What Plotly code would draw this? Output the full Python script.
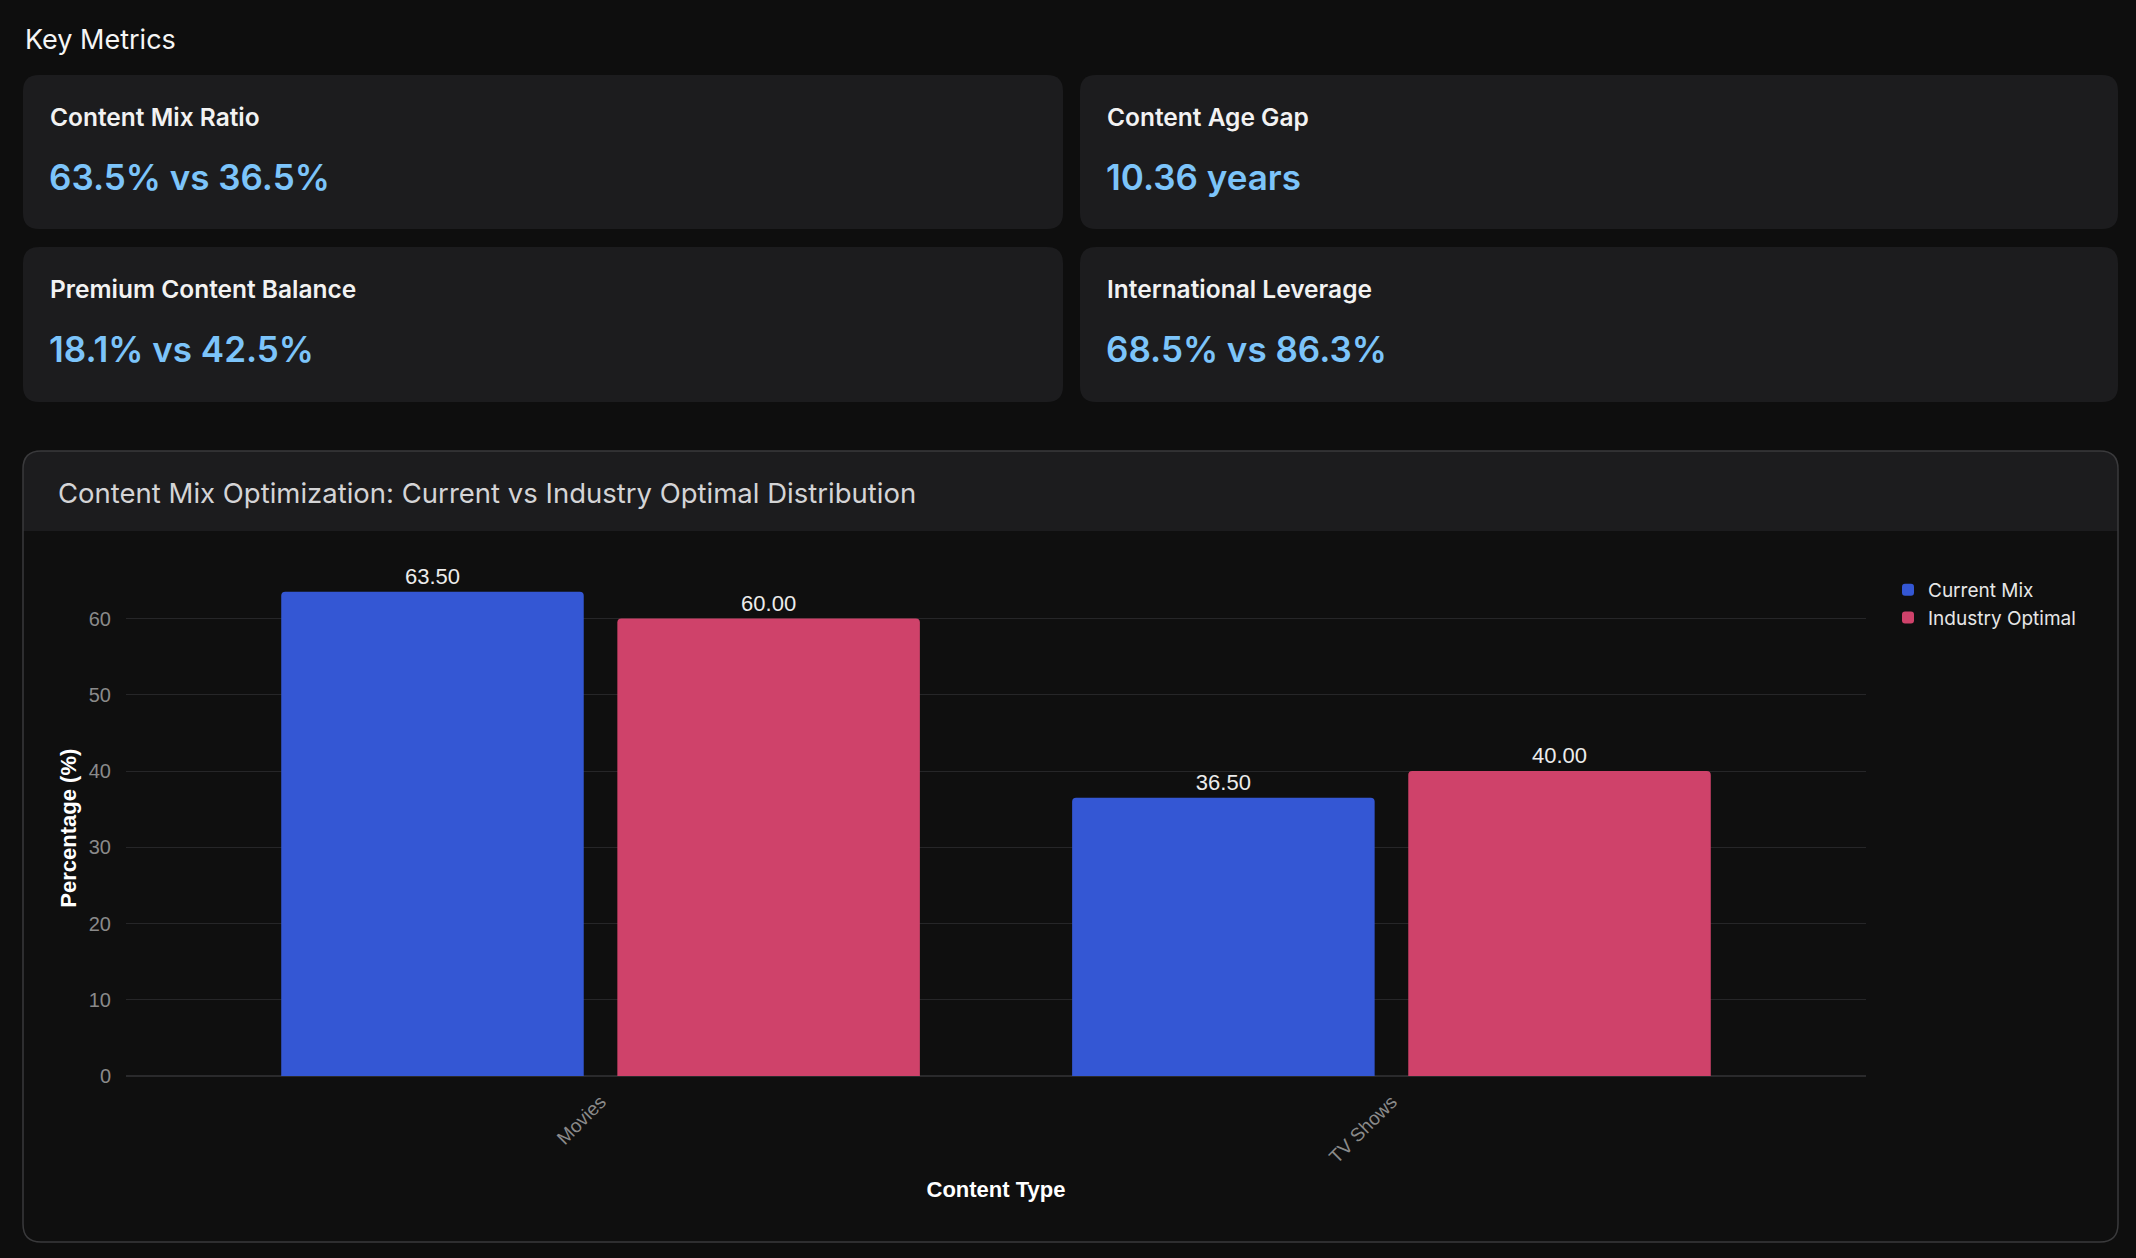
import plotly.graph_objects as go

# ---------------- data ----------------
categories = ["Movies", "TV Shows"]
current_mix = [63.5, 36.5]
industry_optimal = [60.0, 40.0]
series_names = ["Current Mix", "Industry Optimal"]

metric_labels = ["Content Mix Ratio", "Content Age Gap",
                 "Premium Content Balance", "International Leverage"]
metric_values = ["63.5% vs 36.5%", "10.36 years",
                 "18.1% vs 42.5%", "68.5% vs 86.3%"]

y_ticks = [0, 10, 20, 30, 40, 50, 60]

# ---------------- layout helpers (pixel -> paper) ----------------
W, H = 2136, 1258


def px(x):
    return x / W


def py(y):
    return 1 - y / H


def rrect(x0, y0, x1, y1, r, top_only=False):
    pts = []
    if top_only:
        pts.append(f"M{px(x0)},{py(y1)}")
        pts.append(f"L{px(x0)},{py(y0 + r)}")
        pts.append(f"Q{px(x0)},{py(y0)} {px(x0 + r)},{py(y0)}")
        pts.append(f"L{px(x1 - r)},{py(y0)}")
        pts.append(f"Q{px(x1)},{py(y0)} {px(x1)},{py(y0 + r)}")
        pts.append(f"L{px(x1)},{py(y1)} Z")
    else:
        pts.append(f"M{px(x0 + r)},{py(y0)}")
        pts.append(f"L{px(x1 - r)},{py(y0)}")
        pts.append(f"Q{px(x1)},{py(y0)} {px(x1)},{py(y0 + r)}")
        pts.append(f"L{px(x1)},{py(y1 - r)}")
        pts.append(f"Q{px(x1)},{py(y1)} {px(x1 - r)},{py(y1)}")
        pts.append(f"L{px(x0 + r)},{py(y1)}")
        pts.append(f"Q{px(x0)},{py(y1)} {px(x0)},{py(y1 - r)}")
        pts.append(f"L{px(x0)},{py(y0 + r)}")
        pts.append(f"Q{px(x0)},{py(y0)} {px(x0 + r)},{py(y0)} Z")
    return " ".join(pts)


PAGE_BG = "#0e0e0e"
CARD_BG = "#1c1c1e"
BORDER = "#3a3a3c"
BLUE = "#3457d4"
RED = "#cf426a"
VALUE_COLOR = "#7cc4fa"

label_font = "Liberation Sans, Arial"

fig = go.Figure()
for name, vals, col in [(series_names[0], current_mix, BLUE),
                        (series_names[1], industry_optimal, RED)]:
    fig.add_trace(go.Bar(
        name=name, x=categories, y=vals,
        marker=dict(color=col, line=dict(width=0)),
        text=vals, texttemplate="%{y:.2f}", textposition="outside",
        textfont=dict(color="#ececec", size=22, family=label_font),
        cliponaxis=False,
    ))

shapes = []
annotations = []

# Key metrics heading
annotations.append(dict(x=px(23), y=py(39), xref="paper", yref="paper",
                        text="Key Metrics", showarrow=False, xanchor="left",
                        yanchor="middle",
                        font=dict(family="Inter", size=27, color="#f5f5f5")))

# metric cards
card_cols = [(23, 1063), (1080, 2118)]
card_rows = [(75, 229), (247, 402)]
for i, (lab, val) in enumerate(zip(metric_labels, metric_values)):
    r, c = divmod(i, 2)
    x0, x1 = card_cols[c]
    y0, y1 = card_rows[r]
    shapes.append(dict(type="path", xref="paper", yref="paper",
                       path=rrect(x0, y0, x1, y1, 16),
                       fillcolor=CARD_BG, line=dict(width=0), layer="below"))
    annotations.append(dict(x=px(x0 + 25), y=py(y0 + 42), xref="paper", yref="paper",
                            text=lab, showarrow=False, xanchor="left",
                            yanchor="middle",
                            font=dict(family="Inter", size=24.5, weight=600,
                                      color="#f2f2f2")))
    annotations.append(dict(x=px(x0 + 24), y=py(y0 + 102), xref="paper", yref="paper",
                            text=val, showarrow=False, xanchor="left",
                            yanchor="middle",
                            font=dict(family="Inter", size=35, weight=600,
                                      color=VALUE_COLOR)))

# chart card
shapes.append(dict(type="path", xref="paper", yref="paper",
                   path=rrect(23, 451, 2118, 1242, 18),
                   fillcolor="#0f0f0f", line=dict(width=0), layer="below"))
shapes.append(dict(type="path", xref="paper", yref="paper",
                   path=rrect(23, 451, 2118, 531, 18, top_only=True),
                   fillcolor=CARD_BG, line=dict(width=0), layer="below"))
shapes.append(dict(type="path", xref="paper", yref="paper",
                   path=rrect(23, 451, 2118, 1242, 18),
                   fillcolor="rgba(0,0,0,0)", line=dict(width=1.5, color=BORDER),
                   layer="above"))
annotations.append(dict(x=px(56), y=py(493), xref="paper", yref="paper",
                        text="Content Mix Optimization: Current vs Industry Optimal Distribution",
                        showarrow=False, xanchor="left", yanchor="middle",
                        font=dict(family="Inter", size=27.5, color="#d4d4d6")))

fig.update_layout(
    width=W, height=H,
    margin=dict(l=0, r=0, t=0, b=0),
    paper_bgcolor=PAGE_BG, plot_bgcolor="rgba(0,0,0,0)",
    barmode="group", bargap=0.15, bargroupgap=0.1, barcornerradius=4,
    shapes=shapes, annotations=annotations,
    xaxis=dict(
        domain=[px(126), px(1866)], range=[-0.6, 1.6],
        tickangle=-45, showgrid=False, zeroline=False, showline=False,
        tickfont=dict(family=label_font, size=19, color="#8a8a8a"),
        ticklabelstandoff=10,
        title=dict(text="<b>Content Type</b>", standoff=15,
                   font=dict(family=label_font, size=22, color="#ffffff")),
        automargin=False, anchor="y",
    ),
    yaxis=dict(
        domain=[py(1076), py(580.4)], range=[0, 65],
        tickvals=y_ticks, showgrid=True, gridcolor="#262628", gridwidth=1,
        zeroline=True, zerolinecolor="#2a2a2c", zerolinewidth=1.5,
        tickfont=dict(family=label_font, size=20, color="#8a8a8a"),
        ticks="", ticklabelstandoff=14,
        title=dict(text="<b>Percentage (%)</b>", standoff=6,
                   font=dict(family=label_font, size=22, color="#ffffff")),
        automargin=False, anchor="x",
    ),
    legend=dict(x=px(1888), y=py(571), xanchor="left", yanchor="top",
                bgcolor="rgba(0,0,0,0)",
                font=dict(family="Inter", size=19, color="#e6e6e6"),
                tracegroupgap=4),
    showlegend=True,
    hoverlabel=dict(font=dict(family="Inter")),
)

fig.write_html("out.html", config={"displayModeBar": False},
               post_script="document.body.style.margin='0';")
